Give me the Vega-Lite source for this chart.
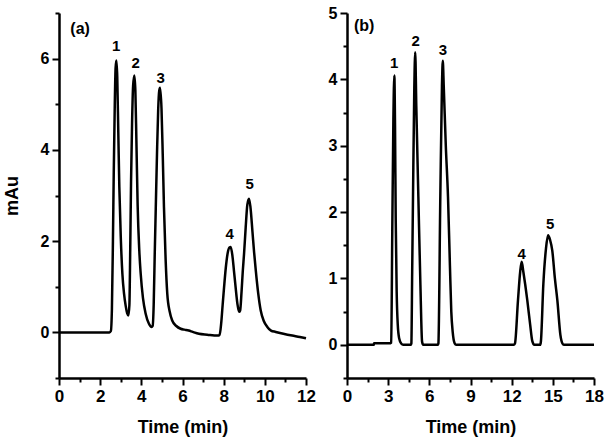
{
  "$schema": "https://vega.github.io/schema/vega-lite/v6.json",
  "autosize": {"type": "pad"},
  "padding": {"left": 3, "top": 5, "right": 5, "bottom": 5},
  "bounds": "flush",
  "spacing": 41,
  "config": {
    "view": {"stroke": null},
    "axis": {
      "grid": false, "domainColor": "black", "domainWidth": 2.5, "tickColor": "black", "tickWidth": 2, "tickSize": 7,
      "labelFont": "Liberation Sans", "labelFontWeight": "bold", "labelColor": "black",
      "labelFontSize": 16, "labelPadding": 3, "labelFlush": false, "labelOverlap": false, "labelBound": false,
      "titleFont": "Liberation Sans", "titleFontWeight": "bold", "titleColor": "black", "titleFontSize": 18
    },
    "axisX": {"labelFontSize": 17, "titlePadding": 14},
    "axisY": {"titlePadding": 19},
    "text": {"font": "Liberation Sans", "fontWeight": "bold", "fontSize": 15, "color": "black"}
  },
  "datasets": {
    "a": [
      {"t":0,"v":0},{"t":1,"v":0},{"t":2,"v":0},{"t":2.45,"v":0},{"t":2.52,"v":0.03},{"t":2.57,"v":0.5},
      {"t":2.62,"v":2.0},{"t":2.66,"v":3.5},{"t":2.71,"v":5.0},{"t":2.75,"v":5.8},{"t":2.79,"v":5.96},
      {"t":2.83,"v":5.6},{"t":2.88,"v":4.4},{"t":2.93,"v":3.2},{"t":3.0,"v":2.1},{"t":3.08,"v":1.28},
      {"t":3.16,"v":0.85},{"t":3.24,"v":0.58},{"t":3.31,"v":0.42},{"t":3.37,"v":0.37},{"t":3.42,"v":0.6},
      {"t":3.46,"v":1.8},{"t":3.5,"v":3.3},{"t":3.55,"v":4.6},{"t":3.6,"v":5.4},{"t":3.66,"v":5.63},
      {"t":3.71,"v":5.3},{"t":3.76,"v":4.2},{"t":3.82,"v":2.8},{"t":3.9,"v":1.8},{"t":3.97,"v":1.28},
      {"t":4.08,"v":0.75},{"t":4.21,"v":0.41},{"t":4.37,"v":0.19},{"t":4.5,"v":0.12},{"t":4.55,"v":0.14},
      {"t":4.6,"v":0.6},{"t":4.65,"v":1.7},{"t":4.7,"v":2.7},{"t":4.76,"v":3.9},{"t":4.82,"v":4.9},
      {"t":4.87,"v":5.3},{"t":4.91,"v":5.36},{"t":4.98,"v":4.9},{"t":5.04,"v":3.9},{"t":5.1,"v":2.74},
      {"t":5.18,"v":1.6},{"t":5.26,"v":0.85},{"t":5.38,"v":0.45},{"t":5.5,"v":0.26},{"t":5.7,"v":0.14},
      {"t":5.91,"v":0.08},{"t":6.1,"v":0.06},{"t":6.3,"v":0.04},{"t":6.5,"v":0.01},{"t":6.8,"v":-0.03},
      {"t":7.2,"v":-0.05},{"t":7.7,"v":-0.07},{"t":7.8,"v":-0.06},{"t":7.88,"v":0.2},{"t":7.95,"v":0.6},
      {"t":8.02,"v":0.99},{"t":8.1,"v":1.4},{"t":8.2,"v":1.75},{"t":8.28,"v":1.86},{"t":8.34,"v":1.87},
      {"t":8.42,"v":1.7},{"t":8.5,"v":1.35},{"t":8.58,"v":0.99},{"t":8.67,"v":0.62},{"t":8.75,"v":0.45},
      {"t":8.8,"v":0.48},{"t":8.87,"v":0.9},{"t":8.93,"v":1.35},{"t":8.99,"v":1.72},{"t":9.07,"v":2.3},
      {"t":9.15,"v":2.8},{"t":9.23,"v":2.93},{"t":9.3,"v":2.75},{"t":9.4,"v":2.2},{"t":9.48,"v":1.75},
      {"t":9.56,"v":1.36},{"t":9.68,"v":0.85},{"t":9.8,"v":0.48},{"t":9.95,"v":0.25},{"t":10.12,"v":0.12},
      {"t":10.3,"v":0.04},{"t":10.53,"v":0.01},{"t":10.9,"v":-0.03},{"t":11.33,"v":-0.07},{"t":11.7,"v":-0.1},
      {"t":12,"v":-0.13}
    ],
    "b": [
      {"t":0,"v":0},{"t":1.95,"v":0},{"t":1.97,"v":0.025},{"t":3.18,"v":0.025},{"t":3.22,"v":0.03},
      {"t":3.3,"v":1.72},{"t":3.38,"v":3.4},{"t":3.45,"v":4.06},{"t":3.5,"v":3.3},{"t":3.55,"v":1.9},
      {"t":3.62,"v":0.8},{"t":3.7,"v":0.3},{"t":3.8,"v":0.1},{"t":3.95,"v":0.02},{"t":4.1,"v":0},
      {"t":4.65,"v":0},{"t":4.69,"v":0.02},{"t":4.75,"v":1.1},{"t":4.81,"v":2.23},{"t":4.9,"v":3.8},
      {"t":4.97,"v":4.41},{"t":5.05,"v":3.6},{"t":5.2,"v":2.23},{"t":5.35,"v":0.9},{"t":5.47,"v":0.05},
      {"t":5.55,"v":0},{"t":6.62,"v":0},{"t":6.66,"v":0.02},{"t":6.8,"v":2.23},{"t":6.92,"v":3.9},
      {"t":6.98,"v":4.28},{"t":7.05,"v":3.9},{"t":7.2,"v":3.0},{"t":7.36,"v":2.23},{"t":7.5,"v":1.2},
      {"t":7.6,"v":0.5},{"t":7.7,"v":0.2},{"t":7.85,"v":0.02},{"t":7.95,"v":0},{"t":12.15,"v":0},
      {"t":12.24,"v":0.02},{"t":12.46,"v":0.67},{"t":12.62,"v":1.1},{"t":12.73,"v":1.25},{"t":12.85,"v":1.1},
      {"t":13.14,"v":0.67},{"t":13.35,"v":0.3},{"t":13.5,"v":0.06},{"t":13.65,"v":0},{"t":14.08,"v":0},
      {"t":14.13,"v":0.05},{"t":14.31,"v":0.92},{"t":14.5,"v":1.45},{"t":14.65,"v":1.65},{"t":14.8,"v":1.58},
      {"t":14.96,"v":1.42},{"t":15.15,"v":1.0},{"t":15.33,"v":0.67},{"t":15.55,"v":0.15},{"t":15.7,"v":0.02},
      {"t":15.8,"v":0},{"t":18,"v":0}
    ],
    "la": [
      {"t":2.78,"v":6.27,"lab":"1"},{"t":3.72,"v":5.91,"lab":"2"},{"t":4.94,"v":5.58,"lab":"3"},
      {"t":8.29,"v":2.16,"lab":"4"},{"t":9.26,"v":3.25,"lab":"5"}
    ],
    "lb": [
      {"t":3.43,"v":4.25,"lab":"1"},{"t":5.0,"v":4.58,"lab":"2"},{"t":6.99,"v":4.44,"lab":"3"},
      {"t":12.73,"v":1.37,"lab":"4"},{"t":14.8,"v":1.82,"lab":"5"}
    ],
    "ta": [{"t":0.55,"v":6.65,"lab":"(a)"}],
    "tb": [{"t":0.51,"v":4.8,"lab":"(b)"}]
  },
  "hconcat": [
    {
      "width": 247, "height": 365,
      "resolve": {"axis": {"x": "independent", "y": "independent"}},
      "layer": [
        {
          "data": {"name": "a"},
          "mark": {"type": "line", "color": "black", "strokeWidth": 2.5, "interpolate": "monotone"},
          "encoding": {
            "x": {"field": "t", "type": "quantitative", "scale": {"domain": [0, 12], "nice": false, "zero": false},
                  "axis": {"title": "Time (min)", "values": [0,2,4,6,8,10,12]}},
            "y": {"field": "v", "type": "quantitative", "scale": {"domain": [-1, 7], "nice": false, "zero": false},
                  "axis": {"title": "mAu", "values": [0,2,4,6]}}
          }
        },
        {
          "data": {"name": "la"},
          "mark": {"type": "text", "baseline": "middle", "align": "center"},
          "encoding": {
            "x": {"field": "t", "type": "quantitative",
                  "axis": {"orient": "bottom", "values": [1,3,5,7,9,11], "labels": false, "domain": false, "title": null, "tickSize": 4}},
            "y": {"field": "v", "type": "quantitative",
                  "axis": {"orient": "left", "values": [-1,1,3,5,7], "labels": false, "domain": false, "title": null, "tickSize": 4}},
            "text": {"field": "lab"}
          }
        },
        {
          "data": {"name": "ta"},
          "mark": {"type": "text", "baseline": "middle", "align": "left", "fontSize": 16},
          "encoding": {
            "x": {"field": "t", "type": "quantitative", "axis": null},
            "y": {"field": "v", "type": "quantitative", "axis": null},
            "text": {"field": "lab"}
          }
        }
      ]
    },
    {
      "width": 247, "height": 365,
      "resolve": {"axis": {"x": "independent", "y": "independent"}},
      "layer": [
        {
          "data": {"name": "b"},
          "mark": {"type": "line", "color": "black", "strokeWidth": 2.5, "interpolate": "monotone"},
          "encoding": {
            "x": {"field": "t", "type": "quantitative", "scale": {"domain": [0, 18], "nice": false, "zero": false},
                  "axis": {"title": "Time (min)", "values": [0,3,6,9,12,15,18]}},
            "y": {"field": "v", "type": "quantitative", "scale": {"domain": [-0.5, 5], "nice": false, "zero": false},
                  "axis": {"title": null, "values": [0,1,2,3,4,5]}}
          }
        },
        {
          "data": {"name": "lb"},
          "mark": {"type": "text", "baseline": "middle", "align": "center"},
          "encoding": {
            "x": {"field": "t", "type": "quantitative",
                  "axis": {"orient": "bottom", "values": [1.5,4.5,7.5,10.5,13.5,16.5], "labels": false, "domain": false, "title": null, "tickSize": 4}},
            "y": {"field": "v", "type": "quantitative",
                  "axis": {"orient": "left", "values": [-0.5,0.5,1.5,2.5,3.5,4.5], "labels": false, "domain": false, "title": null, "tickSize": 4}},
            "text": {"field": "lab"}
          }
        },
        {
          "data": {"name": "tb"},
          "mark": {"type": "text", "baseline": "middle", "align": "left", "fontSize": 16},
          "encoding": {
            "x": {"field": "t", "type": "quantitative", "axis": null},
            "y": {"field": "v", "type": "quantitative", "axis": null},
            "text": {"field": "lab"}
          }
        }
      ]
    }
  ]
}
